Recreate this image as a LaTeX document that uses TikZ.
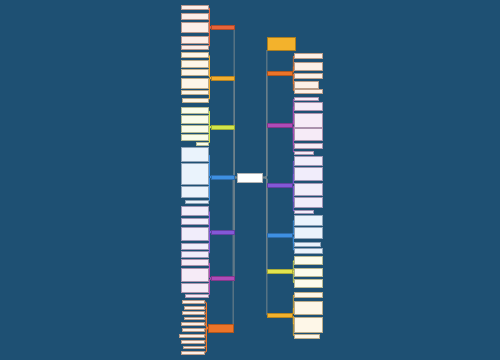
\documentclass[tikz,border=0pt]{standalone}
\usepackage{xcolor}
\usetikzlibrary{backgrounds}
\definecolor{bgcolor}{HTML}{1E5073}
\definecolor{spinecolor}{HTML}{74858D}
\definecolor{redorange}{HTML}{E8643A}
\definecolor{amber}{HTML}{F2AE2E}
\definecolor{lime}{HTML}{D3E64B}
\definecolor{skyblue}{HTML}{3E90E2}
\definecolor{branchviolet}{HTML}{8458D8}
\definecolor{orchid}{HTML}{B04BB8}
\definecolor{tangerine}{HTML}{EC7428}
\definecolor{gold}{HTML}{F3B22C}
\definecolor{canary}{HTML}{E2E44E}
\tikzset{leaf/.style={fill=#1!11,draw=#1!50!black!50,line width=.3pt,inner sep=0pt,anchor=north east},branch/.style={fill=#1,draw=#1!75!black,line width=.3pt,inner sep=0pt,minimum height=4pt},spine/.style={draw=spinecolor,line width=1.1pt,rounded corners=2pt},twig/.style={draw=#1,line width=.8pt,rounded corners=1.5pt},rootbox/.style={fill=white,draw=black!30,line width=.3pt,inner sep=0pt,minimum width=25pt,minimum height=9pt},notebox/.style={fill=gold,draw=gold!70!black,line width=.3pt,inner sep=0pt,minimum width=28pt,minimum height=13pt}}

\begin{document}
\begin{tikzpicture}[x=1pt,y=-1pt]
 \useasboundingbox (0,0) rectangle (500,360);
 \begin{scope}[on background layer]
   \fill[bgcolor] (0,0) rectangle (500,360);
 \end{scope}
 \node[rootbox] (root) at (249.5,177.5) {};
 \node[notebox] (note) at (281,43.5) {};
 % left side
 \foreach \b/\yy/\c in {L1/27.5/redorange,L2/78/amber,L3/127/lime,L4/177/skyblue,L5/232/branchviolet,L6/278.5/orchid}
   \node[branch=\c,minimum width=23pt] (\b) at (222.5,\yy) {};
 \node[branch=tangerine,minimum width=25pt,minimum height=8pt] (L7) at (220.5,328) {};
 \foreach \b/\c/\xr/\rows in {
   L1/redorange/208/{5/9/181,13/19/181,22/32/181,36/43/181,45/49/181},
   L2/amber/208/{52/57/181,60/67/181,69/75/181,78/88/181,90/94/181,98/102/182},
   L3/lime/208/{107/113/181,115/123/181,125/132/181,134/140/181,142/145/196},
   L4/skyblue/208/{147/161/181,163/184/181,186/197/181,200/203/185},
   L5/branchviolet/208/{206/215/181,218/224/181,227/240/181,243/249/181,251/257/181},
   L6/orchid/208/{259/265/181,268/281/181,283/292/181,294/297/185},
   L7/tangerine/204/{300/303/182,306/309/184,311/314/182,317/319/184,322/325/181,328/331/182,334/337/179,340/343/181,346/348/183,351/354/181}} {
   \foreach \t/\u/\xl [count=\k] in \rows {
     \node[leaf=\c,minimum width={(\xr-\xl)*1pt},minimum height={(\u-\t)*1pt}] (\b-\k) at (\xr,\t) {};
     \begin{scope}[on background layer]
       \draw[twig=\c] (\b.west) -- ++(-1.5,0) |- (\b-\k.east);
     \end{scope}
   }
 }
 % right side
 \foreach \b/\yy/\c in {R2/73.5/tangerine,R3/125.5/orchid,R4/185/branchviolet,R5/235.5/skyblue,R6/271.5/canary,R7/315/gold}
   \node[branch=\c,minimum width=25pt] (\b) at (279.5,\yy) {};
 \foreach \b/\c/\rows in {
   R2/tangerine/{53/58/322,62/70/322,73/78/322,81/88/318,89/93/322},
   R3/orchid/{97/100/318,102/110/322,113/127/322,128/140/322,143/148/322,151/154/313},
   R4/branchviolet/{156/165/322,167/180/322,183/195/322,197/207/322,210/213/313},
   R5/skyblue/{215/225/322,227/238/322,242/246/320,248/253/322},
   R6/canary/{256/264/322,268/276/322,279/287/322},
   R7/gold/{292/297/322,301/314/322,317/332/322,334/338/319}} {
   \foreach \t/\u/\xo [count=\k] in \rows {
     \node[leaf=\c,anchor=north west,minimum width={(\xo-294)*1pt},minimum height={(\u-\t)*1pt}] (\b-\k) at (294,\t) {};
     \begin{scope}[on background layer]
       \draw[twig=\c] (\b.east) -- ++(1,0) |- (\b-\k.west);
     \end{scope}
   }
 }
 \begin{scope}[on background layer]
   \foreach \b in {L1,L2,L3,L4,L5,L6,L7} \draw[spine] (root.west) -| (\b.east);
   \foreach \b in {R2,R3,R4,R5,R6,R7} \draw[spine] (root.east) -| (\b.west);
   \draw[spine] (root.east) -| (note.south west);
 \end{scope}
\end{tikzpicture}
\end{document}
